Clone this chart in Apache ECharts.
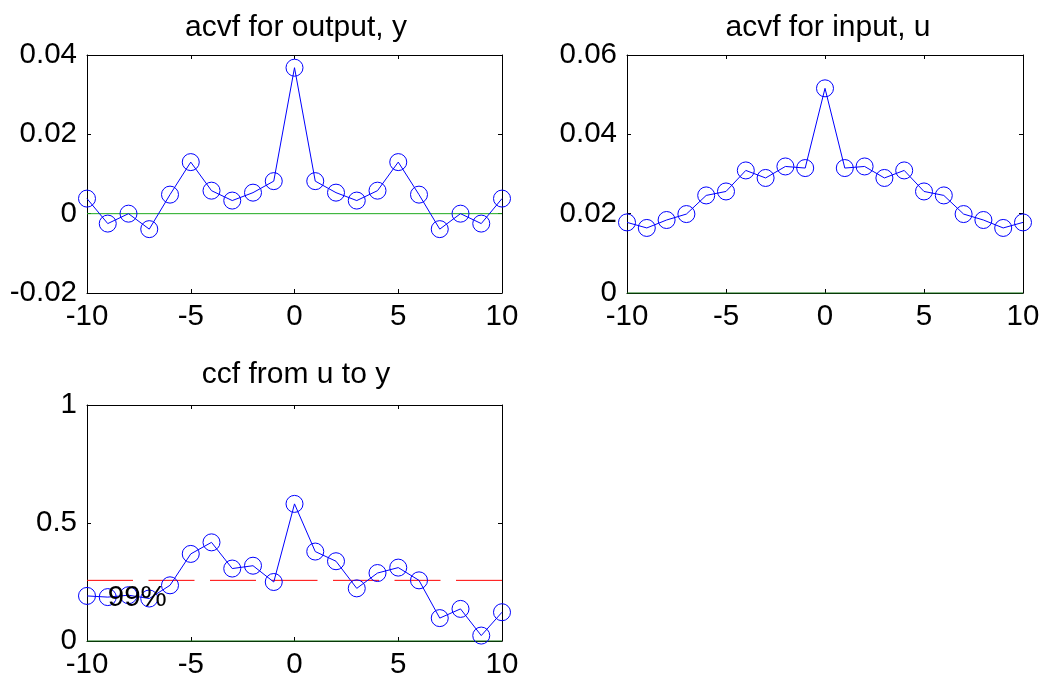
<!DOCTYPE html>
<html>
<head>
<meta charset="utf-8">
<script src="https://cdn.jsdelivr.net/npm/echarts@6/dist/echarts.min.js"></script>
<style>
html,body{margin:0;padding:0;background:#fff;}
#c{width:1064px;height:681px;}
</style>
</head>
<body>
<div id="c"></div>
<script>
const lags = [-10,-9,-8,-7,-6,-5,-4,-3,-2,-1,0,1,2,3,4,5,6,7,8,9,10];
const acvfY = [0.0038,-0.0025,0.0000,-0.0039,0.0048,0.0130,0.0058,0.0033,0.0053,0.0082,0.0368,0.0082,0.0053,0.0033,0.0058,0.0130,0.0048,-0.0039,0.0000,-0.0025,0.0038];
const acvfU = [0.0178,0.0164,0.0184,0.0199,0.0246,0.0256,0.0309,0.0290,0.0319,0.0315,0.0516,0.0315,0.0319,0.0290,0.0309,0.0256,0.0246,0.0199,0.0184,0.0164,0.0178];
const ccfUY = [0.191,0.186,0.194,0.180,0.236,0.369,0.418,0.307,0.319,0.250,0.581,0.379,0.338,0.223,0.288,0.311,0.257,0.097,0.136,0.023,0.122];
const conf99 = 0.257;
const confLabel = '99%';
const confLabelPos = [-9.0, 0.181];
const titles = ['acvf for output, y', 'acvf for input, u', 'ccf from u to y'];
const xRange = [-10, 10, 5];
const yRanges = [[-0.02, 0.04, 0.02], [0, 0.06, 0.02], [0, 1, 0.5]];

const FONT = 'Liberation Sans';
const TICK_FS = 29.5;
const TITLE_FS = 30;
const grids = [
  {left: 87, top: 55, width: 415, height: 238},
  {left: 627, top: 55, width: 396, height: 238},
  {left: 87, top: 405, width: 415, height: 236}
];

const xAxes = [], yAxes = [], series = [];
grids.forEach((g, i) => {
  ['bottom', 'top'].forEach((pos, k) => {
    xAxes.push({
      type: 'value', gridIndex: i, position: pos,
      min: xRange[0], max: xRange[1], interval: xRange[2],
      axisLine: {show: true, onZero: false, lineStyle: {color: '#000', width: 1}},
      axisTick: {show: true, inside: true, length: 4, lineStyle: {color: '#000'}},
      axisLabel: {show: k === 0, color: '#000', fontSize: TICK_FS, fontFamily: FONT, margin: 9},
      splitLine: {show: false}
    });
  });
  ['left', 'right'].forEach((pos, k) => {
    yAxes.push({
      type: 'value', gridIndex: i, position: pos,
      min: yRanges[i][0], max: yRanges[i][1], interval: yRanges[i][2],
      axisLine: {show: true, onZero: false, lineStyle: {color: '#000', width: 1}},
      axisTick: {show: true, inside: true, length: 4, lineStyle: {color: '#000'}},
      axisLabel: {show: k === 0, color: '#000', fontSize: TICK_FS, fontFamily: FONT, margin: 10},
      splitLine: {show: false}
    });
  });
});

function zeroLine(i, color) {
  return {
    type: 'line', xAxisIndex: i * 2, yAxisIndex: i * 2,
    data: [[xRange[0], 0], [xRange[1], 0]],
    symbol: 'none', silent: true, clip: false, z: 3,
    lineStyle: {color: color, width: 1}
  };
}
function dataLine(i, vals) {
  return {
    type: 'line', xAxisIndex: i * 2, yAxisIndex: i * 2,
    data: lags.map((l, j) => [l, vals[j]]),
    symbol: 'circle', symbolSize: 17, showSymbol: true, clip: false, z: 4,
    lineStyle: {color: '#0000ff', width: 1},
    itemStyle: {color: 'rgba(0,0,0,0)', borderColor: '#0000ff', borderWidth: 1}
  };
}
series.push(zeroLine(0, '#1faa1f'));
series.push(dataLine(0, acvfY));
series.push(zeroLine(1, '#107010'));
series.push(dataLine(1, acvfU));
series.push(zeroLine(2, '#107010'));
series.push({
  type: 'line', xAxisIndex: 4, yAxisIndex: 4,
  data: [[xRange[0], conf99], [xRange[1], conf99]],
  symbol: 'none', silent: true, clip: false, z: 3,
  lineStyle: {color: '#ff0000', width: 1, type: [46, 15.5]}
});
series.push(dataLine(2, ccfUY));
series.push({
  type: 'scatter', xAxisIndex: 4, yAxisIndex: 4,
  data: [confLabelPos], symbolSize: 0, z: 6,
  itemStyle: {opacity: 1},
  label: {show: true, formatter: confLabel, position: 'right', distance: 0, opacity: 1,
    color: '#000', fontSize: TICK_FS, fontFamily: FONT}
});

const titleCenters = [[296, 28], [828, 28], [296, 375]];
const graphic = titles.map((t, i) => ({
  type: 'text', x: titleCenters[i][0], y: titleCenters[i][1], z: 10,
  style: {text: t, fill: '#000', font: TITLE_FS + 'px "' + FONT + '"', textAlign: 'center', textVerticalAlign: 'middle', verticalAlign: 'middle'}
}));

const chart = echarts.init(document.getElementById('c'), null, {renderer: 'canvas'});
chart.setOption({
  backgroundColor: '#fff',
  animation: false,
  grid: grids.map(g => Object.assign({containLabel: false}, g)),
  xAxis: xAxes,
  yAxis: yAxes,
  series: series,
  graphic: graphic
});
</script>
</body>
</html>
